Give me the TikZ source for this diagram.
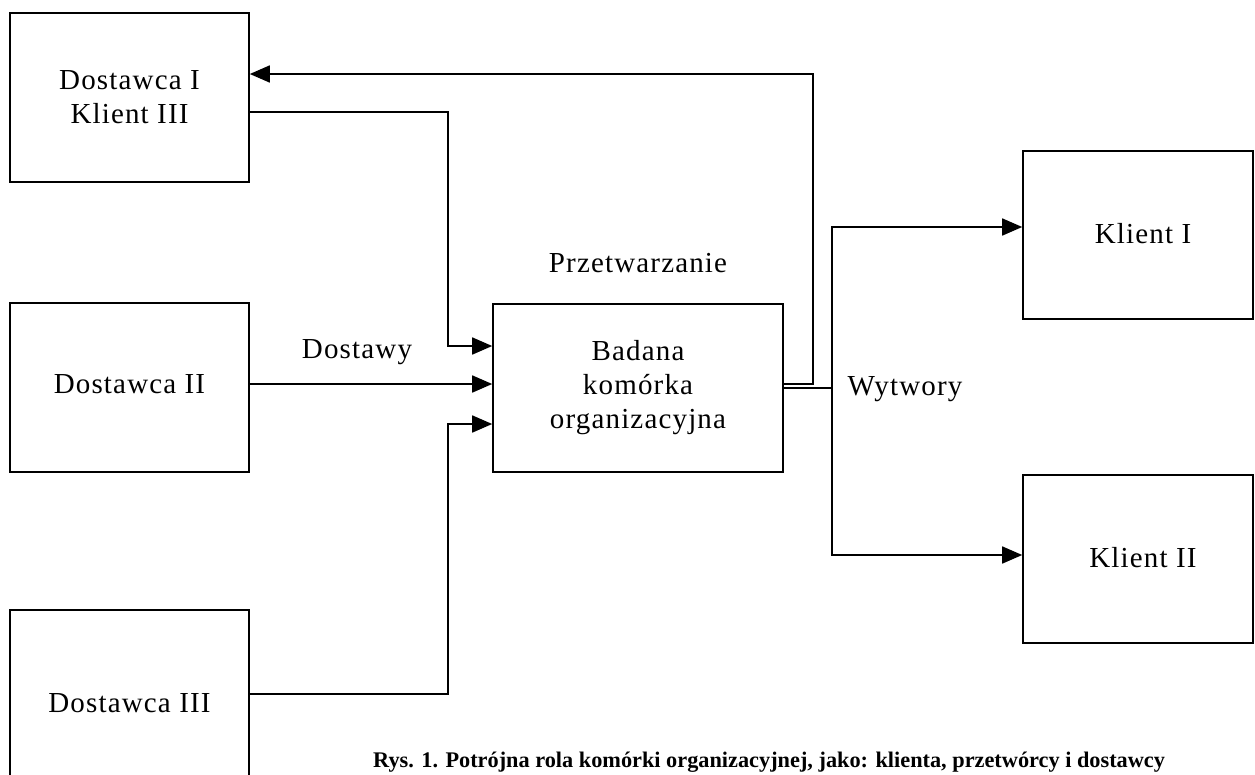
\documentclass[tikz,border=0pt]{standalone}
\usepackage{fontspec}
\setmainfont{Liberation Serif}[LetterSpace=4]
\newfontfamily\capfont{Liberation Serif}
\usetikzlibrary{arrows.meta}
\tikzset{
  box/.style={draw, line width=1.6pt, inner sep=0pt, align=center,
    font=\fontsize{29}{34}\selectfont},
  conn/.style={line width=1.6pt},
  arr/.style={conn, -{Triangle[length=20pt,width=17pt]}},
  lbl/.style={anchor=base, inner sep=0pt, font=\fontsize{29}{34}\selectfont},
}
\begin{document}
\begin{tikzpicture}[x=1pt,y=-1pt]
\useasboundingbox (0,0) rectangle (1255,774);
\fill[white] (0,0) rectangle (1255,774);
% boxes
\node[box, minimum width=239pt, minimum height=169pt] (d1) at (129.5,97.5) {Dostawca I\\Klient III};
\node[box, minimum width=239pt, minimum height=169pt] (d2) at (129.5,387.5) {\raisebox{7pt}{Dostawca II}};
\node[box, minimum width=239pt, minimum height=200pt] (d3) at (129.5,710) {\raisebox{15pt}{Dostawca III}};
\node[box, minimum width=290pt, minimum height=168pt] (c) at (638,388) {Badana\\komórka\\organizacyjna};
\node[box, minimum width=230pt, minimum height=168pt] (k1) at (1138,235) {\hspace*{10pt}\raisebox{4pt}{Klient I}};
\node[box, minimum width=230pt, minimum height=168pt] (k2) at (1138,559) {\hspace*{10pt}\raisebox{4pt}{Klient II}};
% labels
\node[lbl] (ldost) at (357,358) {Dostawy};
\node[lbl] (lprz) at (638,272) {Przetwarzanie};
\node[lbl] (lwyt) at (905,395) {Wytwory};
% inputs
\draw[arr] (d1.east |- 0,112) -| (448,346) -- (c.west |- 0,346);
\draw[arr] (d2.east |- 0,384) -- (c.west |- 0,384);
\draw[arr] (d3.east |- 0,694) -| (448,424) -- (c.west |- 0,424);
% feedback
\draw[arr] (c.east |- 0,384) -| (813,74) -- (d1.east |- 0,74);
% outputs
\draw[conn] (c.east |- 0,388) -- (832,388);
\draw[arr] (832,388) |- (k1.west |- 0,227);
\draw[arr] (832,388) |- (k2.west |- 0,555);
% caption
\node[anchor=base west, inner sep=0pt, font=\capfont\bfseries\fontsize{22.3}{26}\selectfont] (cap) at (373,767)
  {Rys. 1. Potrójna rola komórki organizacyjnej, jako: klienta, przetwórcy i dostawcy};
\end{tikzpicture}
\end{document}
